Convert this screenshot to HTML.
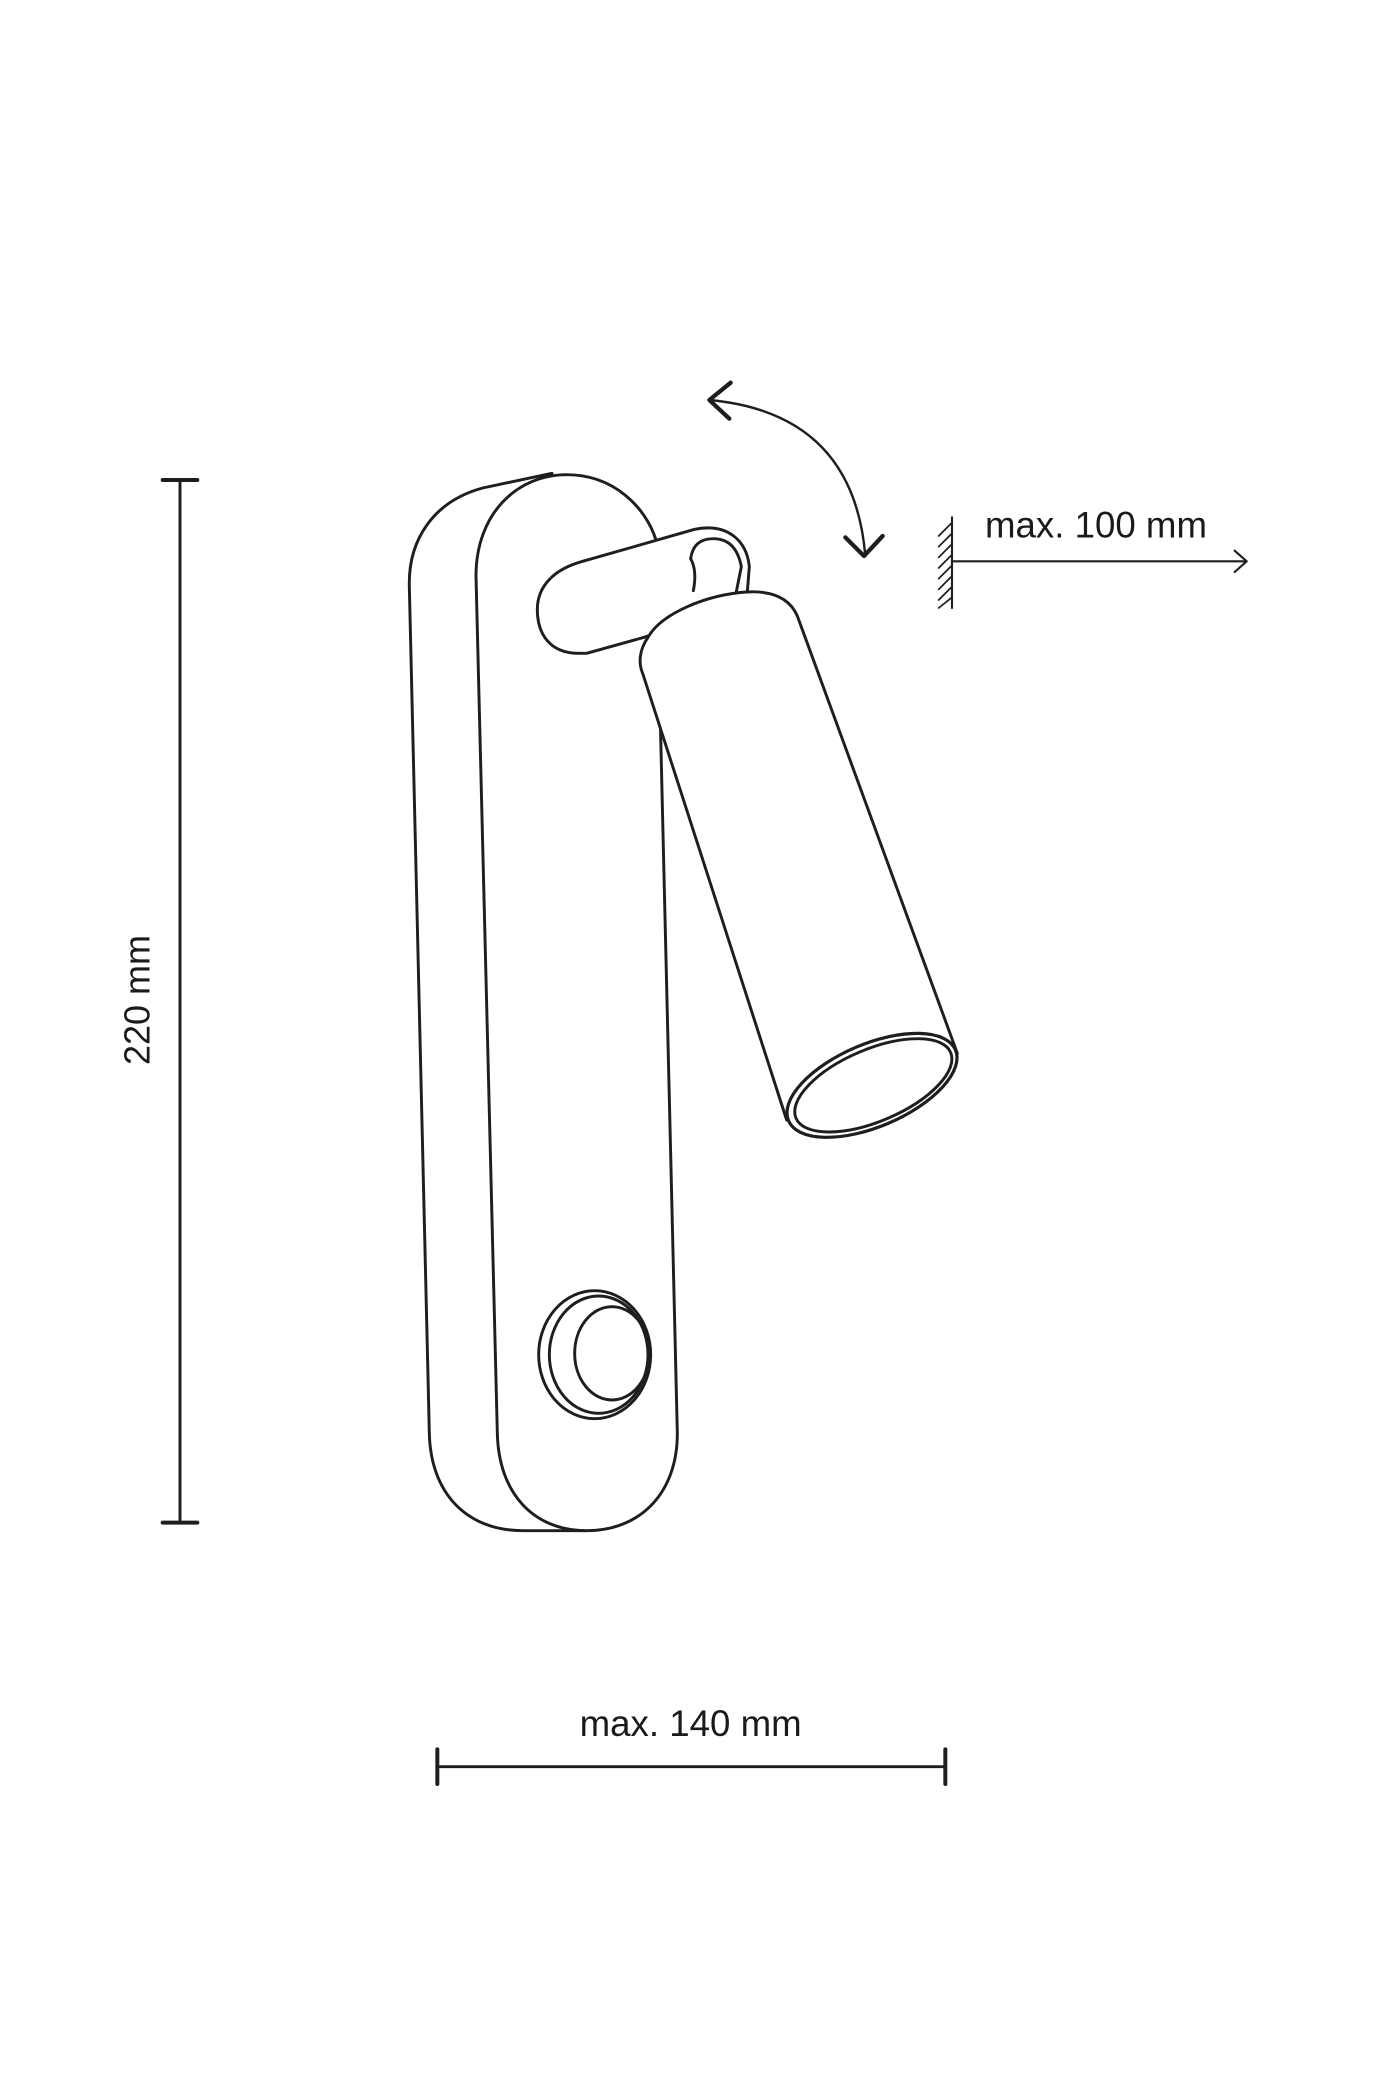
<!DOCTYPE html>
<html><head><meta charset="utf-8"><style>
html,body{margin:0;padding:0;background:#fff;}
svg{display:block;}
text{font-family:"Liberation Sans",sans-serif;fill:#1a1a1a;}
</style></head><body>
<svg width="1400" height="2100" viewBox="0 0 1050 1575" xmlns="http://www.w3.org/2000/svg">
<g fill="none" stroke="#1e1e1e" stroke-width="2.2" stroke-linejoin="round" stroke-linecap="round">
<!-- vertical dimension -->
<line x1="135" y1="360" x2="135" y2="1142"/>
<line x1="122" y1="360" x2="148" y2="360" stroke-width="3"/>
<line x1="122" y1="1142" x2="148" y2="1142" stroke-width="3"/>
<!-- horizontal dimension -->
<line x1="328" y1="1325" x2="709" y2="1325"/>
<line x1="328" y1="1312" x2="328" y2="1338" stroke-width="3"/>
<line x1="709" y1="1312" x2="709" y2="1338" stroke-width="3"/>
<!-- wall + arrow -->
<line x1="714" y1="388" x2="714" y2="456" stroke-width="1.6"/>
<g stroke-width="1.3">
<line x1="714" y1="392" x2="704" y2="402"/><line x1="714" y1="400" x2="704" y2="410"/>
<line x1="714" y1="408" x2="704" y2="418"/><line x1="714" y1="416" x2="704" y2="426"/>
<line x1="714" y1="424" x2="704" y2="434"/><line x1="714" y1="432" x2="704" y2="442"/>
<line x1="714" y1="440" x2="704" y2="450"/><line x1="714" y1="448" x2="704" y2="456"/>
</g>
<line x1="714" y1="421" x2="935" y2="421" stroke-width="1.6"/>
<polyline points="926,413 935,421 926,429" stroke-width="1.6"/>
<!-- rotation arrow -->
<path d="M532 300 Q640 310 649 417" stroke-width="1.8"/>
<polyline points="548,287 532,300 547,314" stroke-width="3.2"/>
<polyline points="634,403 648,417 662,402" stroke-width="3.2"/>

<!-- back plate -->
<path d="M414 355 L362 366 C325 376 306 405 307 440 L322 1075 C323 1120 350 1148 392 1148 L440 1148" fill="#fff"/>
<!-- front plate -->
<path d="M373 1075 L357 432 C357 385 388 356 425 356 C460 356 484 380 492 405 L508 1075 C508 1120 480 1148 440 1148 C400 1148 374 1120 373 1075 Z" fill="#fff"/>
<!-- switch -->
<ellipse cx="446" cy="1016" rx="42" ry="48"/>
<ellipse cx="449" cy="1016" rx="37" ry="44"/>
<ellipse cx="459" cy="1015" rx="28" ry="35"/>

<!-- arm -->
<path d="M434 490 C412 490 403 475 403 457 C403 440 415 427 437 421 L521 397 C545 392 560 405 562 425 L560 450 L483 478 L440 490 Z" fill="#fff"/>
<path d="M518 419 Q520 404 535 404 Q552 404 556 425 L552 445" />
<path d="M518 419 Q523 428 520 443"/>
<!-- tube -->
<path d="M482 505 L590 840 L718 790 L598 462 C592 448 578 443 560 444 C530 446 496 460 486 478 C479 488 479 498 482 505 Z" fill="#fff"/>
<!-- end cap -->
<ellipse cx="654" cy="814" rx="68" ry="31" transform="rotate(-23 654 814)" fill="#fff" stroke-width="2.4"/>
<ellipse cx="655" cy="814" rx="63" ry="27" transform="rotate(-23 655 814)" stroke-width="2.2"/>
</g>
<text x="105" y="750" font-size="27" text-anchor="middle" transform="rotate(-90 105 750)" dominant-baseline="middle">220 mm</text>
<text x="518" y="1302" font-size="27.5" text-anchor="middle">max. 140 mm</text>
<text x="822" y="403" font-size="27.5" text-anchor="middle">max. 100 mm</text>
</svg>
</body></html>
